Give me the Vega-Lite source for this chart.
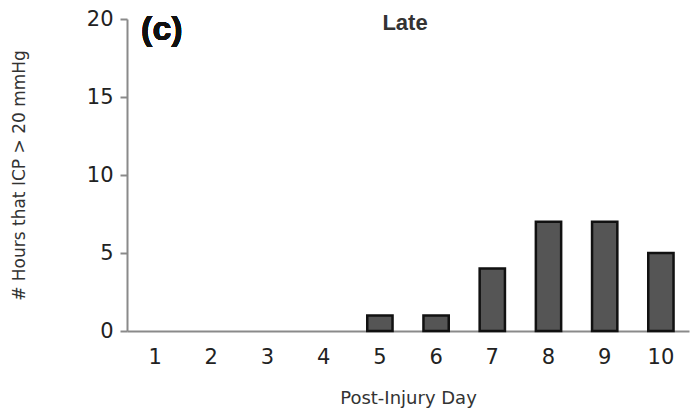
{
  "$schema": "https://vega.github.io/schema/vega-lite/v6.json",
  "width": 562,
  "height": 312,
  "autosize": {"type": "none"},
  "padding": {"left": 127, "top": 19, "right": 2, "bottom": 87},
  "background": "white",
  "config": {
    "view": {"stroke": null},
    "font": "Liberation Sans",
    "axis": {"grid": false, "domainColor": "#8a8a8a", "domainWidth": 2, "tickColor": "#8a8a8a", "tickWidth": 2, "labelColor": "#222", "titleColor": "#333", "labelFont": "DejaVu Sans", "titleFont": "DejaVu Sans"}
  },
  "title": {"text": "Late", "fontSize": 22, "fontWeight": "bold", "color": "#333", "anchor": "middle", "offset": -37, "dx": -3, "baseline": "middle"},
  "data": {"values": [
    {"day": "1", "hours": 0},
    {"day": "2", "hours": 0},
    {"day": "3", "hours": 0},
    {"day": "4", "hours": 0},
    {"day": "5", "hours": 1},
    {"day": "6", "hours": 1},
    {"day": "7", "hours": 4},
    {"day": "8", "hours": 7},
    {"day": "9", "hours": 7},
    {"day": "10", "hours": 5}
  ]},
  "layer": [
    {
      "mark": {"type": "bar", "fill": "#555555", "strokeWidth": 2.5},
      "encoding": {
        "x": {"field": "day", "type": "ordinal", "sort": null,
              "scale": {"paddingInner": 0.55, "paddingOuter": 0.275},
              "axis": {"title": "Post-Injury Day", "labelAngle": 0, "ticks": false, "labelFontSize": 21, "labelPadding": 15, "titleFontSize": 18, "titleFontWeight": "normal", "titlePadding": 22}},
        "y": {"field": "hours", "type": "quantitative",
              "scale": {"domain": [0, 20]},
              "axis": {"title": "# Hours that ICP > 20 mmHg", "values": [0, 5, 10, 15, 20], "tickSize": 7, "labelFontSize": 21, "labelPadding": 7, "titleFontSize": 17, "titleFontWeight": "normal", "titlePadding": 58}},
        "stroke": {"condition": {"test": "datum.hours > 0", "value": "#111"}, "value": "transparent"}
      }
    },
    {
      "mark": {"type": "text", "text": "(c)", "fontSize": 34, "fontWeight": "bold", "align": "left", "baseline": "middle", "dx": -14, "color": "#111"},
      "encoding": {
        "x": {"datum": "1", "type": "ordinal"},
        "y": {"datum": 19.3, "type": "quantitative"}
      }
    }
  ]
}
